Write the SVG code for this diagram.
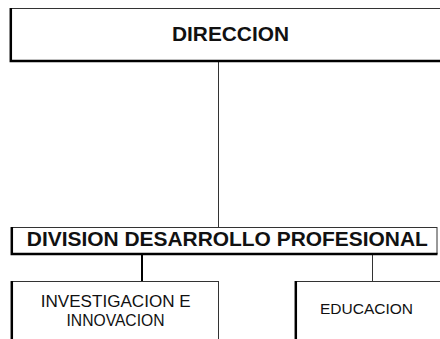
<svg xmlns="http://www.w3.org/2000/svg" width="440" height="339" viewBox="0 0 440 339">
<style>
.box{fill:#fff;stroke:#333;stroke-width:1}
.sh{stroke:#000;stroke-width:2.5;fill:none}
.t{font-family:"Liberation Sans",Arial,sans-serif;fill:#111;text-anchor:middle}
.b{font-weight:bold}
.c{stroke:#333;stroke-width:1;fill:none}
</style>
<rect width="440" height="339" fill="#fff"/>
<g id="connectors">
<line class="c" x1="218.5" y1="62" x2="218.5" y2="227"/>
<line stroke="#000" stroke-width="2" x1="142" y1="255" x2="142" y2="281"/>
<line class="c" x1="372.5" y1="255" x2="372.5" y2="281"/>
</g>
<g id="direccion">
<rect class="box" x="10.5" y="8.5" width="450" height="52"/>
<path class="sh" d="M10.8 8 V61 H460"/>
<text class="t b" x="230.5" y="41" font-size="20" textLength="117" lengthAdjust="spacingAndGlyphs">DIRECCION</text>
</g>
<g id="division">
<rect class="box" x="11.5" y="227.5" width="425.5" height="26"/>
<path class="sh" d="M11.8 227 V254 H437.5"/>
<text class="t b" x="227.3" y="246" font-size="19.5" textLength="401" lengthAdjust="spacingAndGlyphs">DIVISION DESARROLLO PROFESIONAL</text>
</g>
<g id="investigacion">
<rect class="box" x="11.5" y="281.5" width="207" height="80"/>
<path class="sh" d="M11.8 281 V345"/>
<text class="t" x="115.7" y="306.7" font-size="16.3" textLength="150" lengthAdjust="spacingAndGlyphs">INVESTIGACION E</text>
<text class="t" x="115.5" y="325.7" font-size="16.3" textLength="98" lengthAdjust="spacingAndGlyphs">INNOVACION</text>
</g>
<g id="educacion">
<rect class="box" x="295.5" y="281.5" width="160" height="80"/>
<path class="sh" d="M295.8 281 V345"/>
<text class="t" x="366.5" y="314.3" font-size="15.4" textLength="93" lengthAdjust="spacingAndGlyphs">EDUCACION</text>
</g>
</svg>
